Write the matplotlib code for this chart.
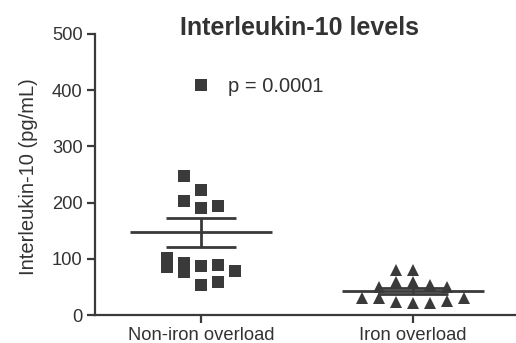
import numpy as np
import matplotlib
matplotlib.use('Agg')
import matplotlib.pyplot as plt
from matplotlib.lines import Line2D

plt.rcParams['font.family'] = ['Liberation Sans', 'DejaVu Sans']

# data
groups = ['Non-iron overload', 'Iron overload']
non_iron = [222, 248, 203, 190, 194,
            87, 93, 89, 101, 79, 85, 76, 54, 59]
iron = [21, 24, 21, 30, 25, 30, 31,
        58, 58, 53, 49, 50, 80, 80]
means = [147, 43]
sems = [26, 5]
markers = ['s', '^']
p_label = 'p = 0.0001'
yticks = [0, 100, 200, 300, 400, 500]

INK = '#3a3a3a'
TXT = '#333333'

W, H = 516, 343
fig = plt.figure(figsize=(W / 100, H / 100), dpi=100)
ax = fig.add_axes([95 / W, 28 / H, 421 / W, 281 / H])
ax.set_xlim(-0.5, 1.486)
ax.set_ylim(0, 500)


def swarm(values, center, dy_px, max_px, step_px=8.5, dx_px=16):
    """greedy beeswarm in pixel space, returns x data positions"""
    fig.canvas.draw()
    tr = ax.transData
    placed = []
    xs = []
    cands = [0]
    k = 1
    while k * step_px <= max_px:
        cands += [-k, k]
        k += 1
    for v in values:
        x0, y = tr.transform((center, v))
        best, best_gap = None, -1
        for c in cands:
            x = x0 + c * step_px
            near = [abs(y - py) for px, py in placed if abs(x - px) < dx_px]
            gap = min(near) if near else np.inf
            if gap >= dy_px:
                best = x
                break
            if gap > best_gap:
                best, best_gap = x, gap
        placed.append((best, y))
        xs.append(tr.inverted().transform((best, y))[0])
    return xs


sizes = [9, 8]
for i, (vals, m) in enumerate(zip([non_iron, iron], markers)):
    if m == 's':
        xs = swarm(vals, i, dy_px=15, max_px=34)
    else:
        xs = swarm(vals, i, dy_px=10, max_px=51)
    ax.plot(xs, vals, m, color=INK, markersize=sizes[i], markeredgewidth=0, zorder=2)

# mean +/- SEM
for i, (mu, se) in enumerate(zip(means, sems)):
    ax.hlines(mu, i - 0.335, i + 0.335, color=INK, lw=2, zorder=3)
    ax.hlines([mu - se, mu + se], i - 0.166, i + 0.166, color=INK, lw=2, zorder=3)
    ax.vlines(i, mu - se, mu + se, color=INK, lw=2, zorder=3)

ax.spines['top'].set_visible(False)
ax.spines['right'].set_visible(False)
for s in ['left', 'bottom']:
    ax.spines[s].set_linewidth(1.6)
    ax.spines[s].set_color(INK)

ax.set_xticks([0, 1])
ax.set_xticklabels(groups)
ax.set_yticks(yticks)
ax.tick_params(axis='both', colors=INK, labelcolor=TXT, labelsize=13.2,
               width=1.6, length=6, direction='out')
ax.tick_params(axis='x', pad=3)
ax.tick_params(axis='y', pad=3)

ax.set_ylabel('Interleukin-10 (pg/mL)', fontsize=14.5, color=TXT)
ax.yaxis.set_label_coords(-0.135, 0.493)

fig.text(299 / W, 1 - 35 / H, 'Interleukin-10 levels', fontsize=18,
         fontweight='bold', color=TXT, ha='center', va='baseline')

h = Line2D([], [], marker='s', ls='none', color=INK, markersize=9, markeredgewidth=0)
ax.legend([h], [p_label], loc='center left', bbox_to_anchor=(0.203, 0.812),
          frameon=False, fontsize=14.5, handletextpad=0.35, labelcolor=TXT,
          borderaxespad=0, borderpad=0)

fig.savefig('out.png', dpi=100)
